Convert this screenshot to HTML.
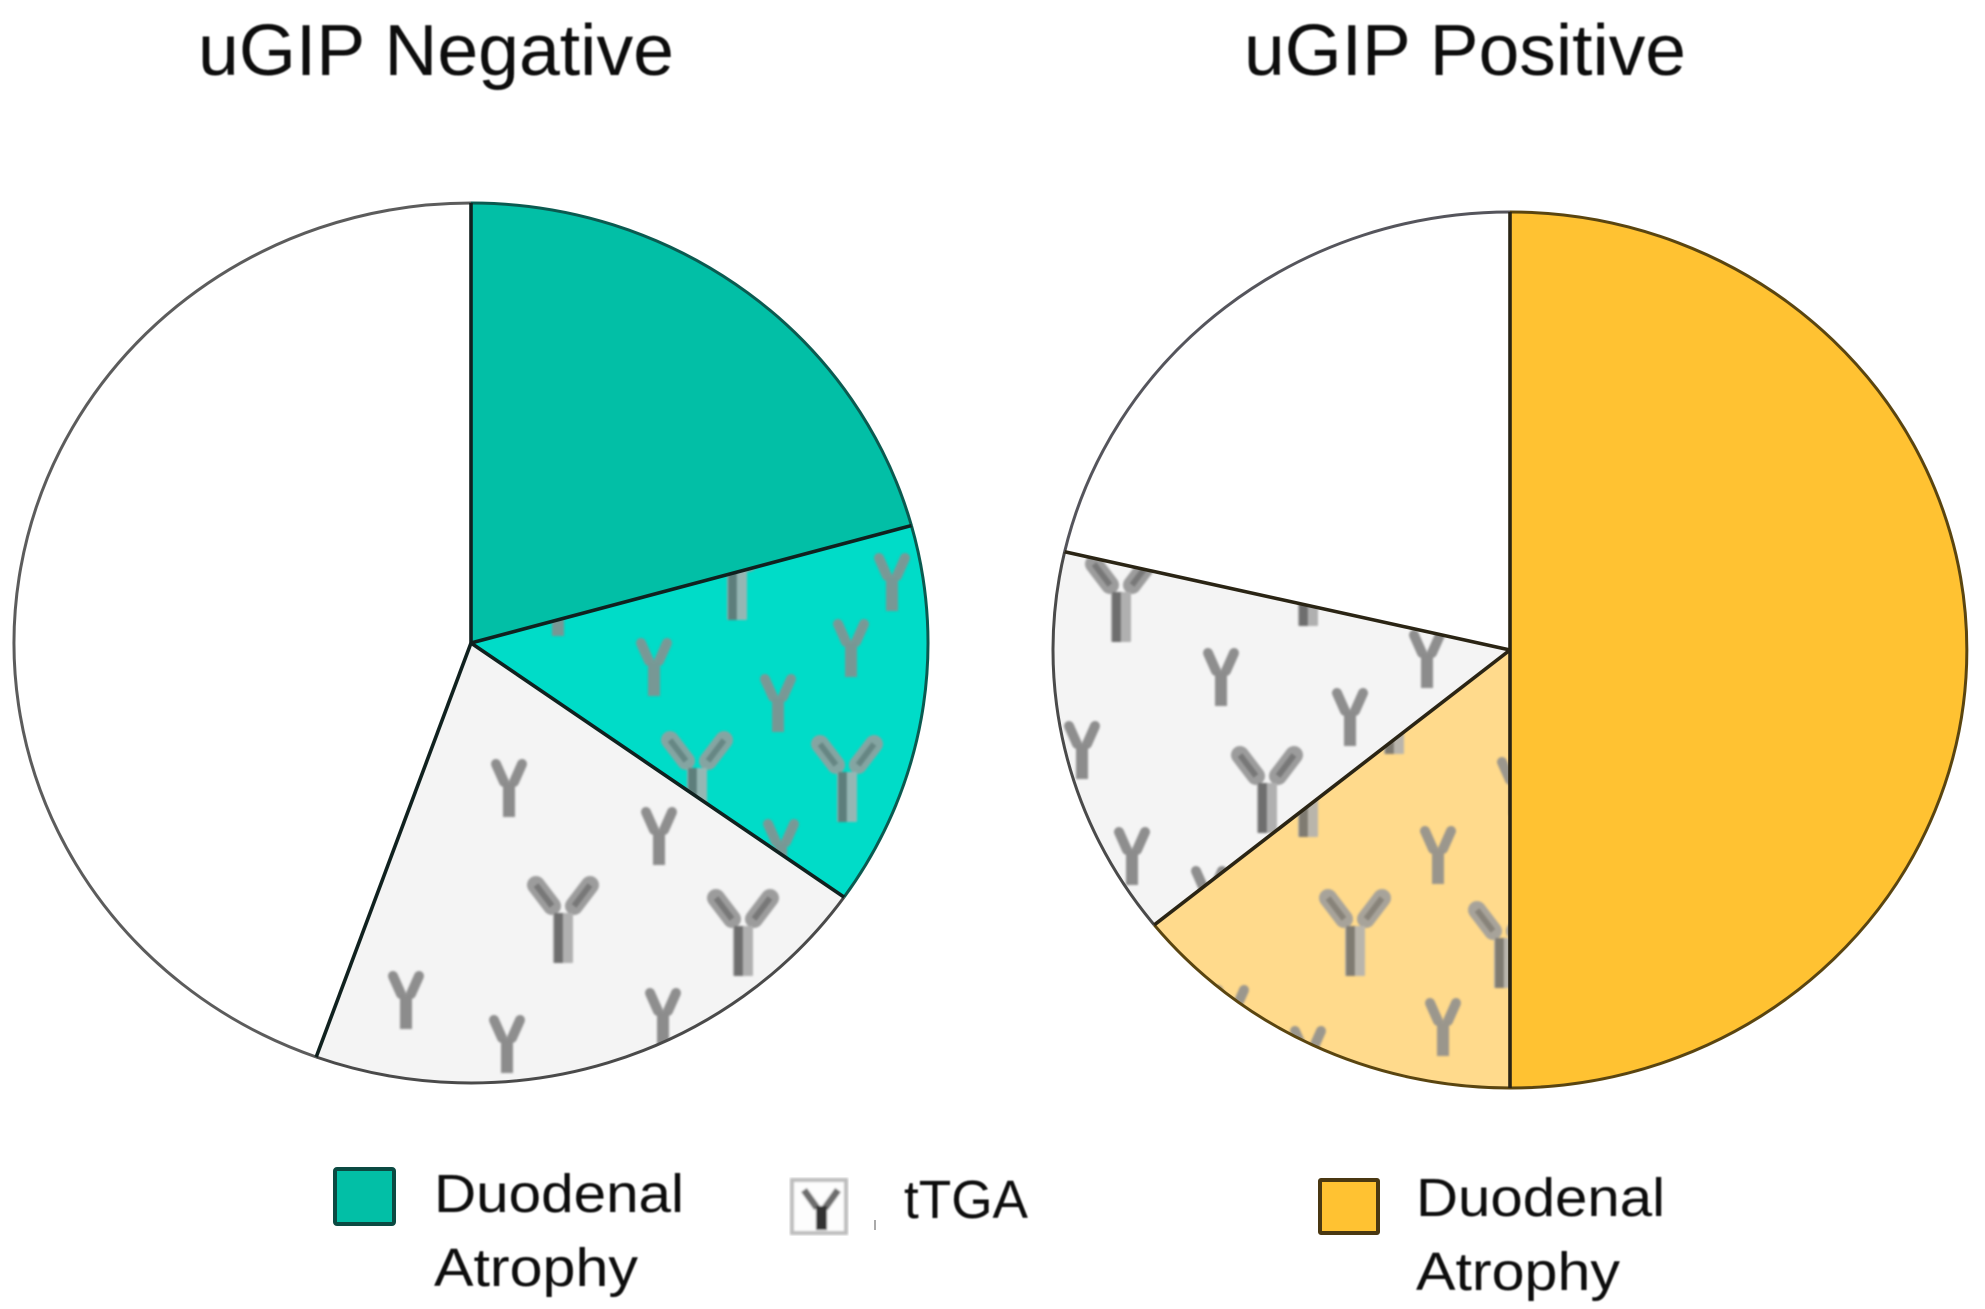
<!DOCTYPE html>
<html lang="en">
<head>
<meta charset="utf-8">
<title>uGIP Negative vs uGIP Positive</title>
<style>
html,body{margin:0;padding:0;background:#fff;width:1985px;height:1309px;overflow:hidden}
svg{display:block}
text{font-family:"Liberation Sans",sans-serif;fill:#0a0a0a}
</style>
</head>
<body>
<svg id="chart" xmlns="http://www.w3.org/2000/svg" width="1985" height="1309" viewBox="0 0 1985 1309">
  <defs>
    <filter id="soft" x="-5%" y="-5%" width="110%" height="110%"><feGaussianBlur stdDeviation="1.1"/></filter>
    <filter id="soft-text" x="-5%" y="-20%" width="110%" height="140%"><feGaussianBlur stdDeviation="0.7"/></filter>
    <g id="ab-large">
      <path d="M-27 8 L-11 29 M27 8 L11 29" stroke="#9c9c9c" stroke-width="18" stroke-linecap="round" fill="none"/>
      <path d="M-27 8 L-11 29 M27 8 L11 29" stroke="#787878" stroke-width="6" fill="none"/>
      <rect x="-10" y="36" width="20" height="50" rx="1" fill="#b0b0b0"/>
      <rect x="-9" y="36" width="9" height="50" fill="#6e6e6e"/>
    </g>
    <g id="ab-small">
      <path d="M-13 5 L-5 23 M13 5 L5 23" stroke="#8e8e8e" stroke-width="10" stroke-linecap="round" fill="none"/>
      <rect x="-6" y="24" width="12" height="34" fill="#8c8c8c"/>
    </g>
  </defs>

  <text x="198" y="75" font-size="72" textLength="476" lengthAdjust="spacingAndGlyphs" filter="url(#soft-text)">uGIP Negative</text>
  <text x="1244" y="75" font-size="72" textLength="442" lengthAdjust="spacingAndGlyphs" filter="url(#soft-text)">uGIP Positive</text>

  <g id="pie-negative"></g>
  <g id="pie-positive"></g>

  <g>
    <rect x="335" y="1169" width="59" height="55" rx="2" fill="#02bfa6" stroke="#0b4a42" stroke-width="4"/>
    <text x="434" y="1212" font-size="54" textLength="250" lengthAdjust="spacingAndGlyphs" filter="url(#soft-text)">Duodenal</text>
    <text x="434" y="1286" font-size="54" textLength="204" lengthAdjust="spacingAndGlyphs" filter="url(#soft-text)">Atrophy</text>
  </g>
  <g>
    <g filter="url(#soft)">
      <rect x="792" y="1180" width="54" height="53" fill="#fdfdfd" stroke="#bdbdbd" stroke-width="4"/>
      <path d="M804 1190 L817 1208 M838 1190 L825 1208" stroke="#6d6d6d" stroke-width="7" fill="none"/>
      <rect x="816" y="1206" width="11" height="24" fill="#333"/>
    </g>
    <rect x="874" y="1220" width="2" height="10" fill="#aaa"/>
    <text x="904" y="1218" font-size="54" textLength="124" lengthAdjust="spacingAndGlyphs" filter="url(#soft-text)">tTGA</text>
  </g>
  <g>
    <rect x="1320" y="1180" width="58" height="53" rx="1" fill="#ffc232" stroke="#4a3812" stroke-width="4"/>
    <text x="1416" y="1216" font-size="54" textLength="249" lengthAdjust="spacingAndGlyphs" filter="url(#soft-text)">Duodenal</text>
    <text x="1416" y="1290" font-size="54" textLength="204" lengthAdjust="spacingAndGlyphs" filter="url(#soft-text)">Atrophy</text>
  </g>

  <!-- antibody texture, clipped to the tTGA slices -->
  <g id="texture-neg-grey" filter="url(#soft)">
    <use href="#ab-small" x="509" y="759"/><use href="#ab-small" x="659" y="807"/>
    <use href="#ab-large" x="563" y="877"/><use href="#ab-large" x="743" y="890"/>
    <use href="#ab-small" x="406" y="971"/><use href="#ab-small" x="507" y="1015"/>
    <use href="#ab-small" x="663" y="988"/>
  </g>
  <g id="texture-neg-teal" filter="url(#soft)" opacity="0.85">
    <use href="#ab-small" x="654" y="638"/><use href="#ab-small" x="851" y="619"/>
    <use href="#ab-small" x="778" y="674"/><use href="#ab-large" x="697" y="732"/>
    <use href="#ab-large" x="847" y="736"/><use href="#ab-small" x="781" y="819"/>
    <use href="#ab-small" x="892" y="553"/><use href="#ab-large" x="737" y="534"/>
    <use href="#ab-small" x="558" y="578"/>
  </g>
  <g id="texture-pos-grey" filter="url(#soft)">
    <use href="#ab-large" x="1121" y="556"/><use href="#ab-large" x="1308" y="540"/>
    <use href="#ab-small" x="1427" y="630"/><use href="#ab-small" x="1221" y="648"/>
    <use href="#ab-small" x="1350" y="688"/><use href="#ab-small" x="1082" y="721"/>
    <use href="#ab-large" x="1267" y="747"/><use href="#ab-small" x="1132" y="827"/>
    <use href="#ab-small" x="1209" y="866"/>
  </g>
  <g id="texture-pos-yellow" filter="url(#soft)" opacity="0.88">
    <use href="#ab-large" x="1394" y="668"/><use href="#ab-large" x="1308" y="751"/>
    <use href="#ab-small" x="1438" y="826"/><use href="#ab-large" x="1355" y="890"/>
    <use href="#ab-large" x="1504" y="902"/><use href="#ab-small" x="1515" y="757"/>
    <use href="#ab-small" x="1443" y="998"/><use href="#ab-small" x="1231" y="985"/>
    <use href="#ab-small" x="1308" y="1026"/>
  </g>
</svg>

<script>
const negativeCategories = ['atrophy', 'atrophy-ttga', 'ttga', 'neither'];
const negativeValues = [20.7, 14.1, 20.7, 44.5];
const positiveCategories = ['atrophy', 'atrophy-ttga', 'ttga', 'neither'];
const positiveValues = [50, 14.2, 14.4, 21.4];

const SVG_NS = 'http://www.w3.org/2000/svg';

function makePoint(cx, cy, rx, ry) {
  return function (fraction) {
    const a = fraction * 2 * Math.PI;
    return [cx + rx * Math.sin(a), cy - ry * Math.cos(a)];
  };
}

function drawPie(opts) {
  const group = document.getElementById(opts.groupId);
  const svg = document.getElementById('chart');
  const defs = svg.querySelector('defs');
  const point = makePoint(opts.cx, opts.cy, opts.rx, opts.ry);
  const total = opts.values.reduce(function (s, v) { return s + v; }, 0);
  let running = 0;
  const edgeLayer = document.createElementNS(SVG_NS, 'g');
  const radii = [];

  opts.values.forEach(function (value, i) {
    const start = running / total;
    running += value;
    const end = running / total;
    const p0 = point(start);
    const p1 = point(end);
    const large = end - start > 0.5 ? 1 : 0;
    const arc = 'A' + opts.rx + ' ' + opts.ry + ' 0 ' + large + ' 1 ' + p1[0] + ' ' + p1[1];
    const d = 'M' + opts.cx + ' ' + opts.cy + ' L' + p0[0] + ' ' + p0[1] + ' ' + arc + ' Z';

    const slice = document.createElementNS(SVG_NS, 'path');
    slice.setAttribute('d', d);
    slice.setAttribute('fill', opts.fills[i]);
    
    
    group.appendChild(slice);

    const clip = document.createElementNS(SVG_NS, 'clipPath');
    clip.setAttribute('id', opts.prefix + '-clip-' + i);
    const clipPath = document.createElementNS(SVG_NS, 'path');
    clipPath.setAttribute('d', d);
    clip.appendChild(clipPath);
    defs.appendChild(clip);

    const rim = document.createElementNS(SVG_NS, 'path');
    rim.setAttribute('d', 'M' + p0[0] + ' ' + p0[1] + ' ' + arc);
    rim.setAttribute('fill', 'none');
    rim.setAttribute('stroke', opts.rims[i]);
    rim.setAttribute('stroke-width', '3');
    
    
    edgeLayer.appendChild(rim);

    radii.push(p0);
  });

  opts.textures.forEach(function (t) {
    const tex = document.getElementById(t.id);
    const wrap = document.createElementNS(SVG_NS, 'g');
    wrap.setAttribute('clip-path', 'url(#' + opts.prefix + '-clip-' + t.slice + ')');
    
    
    wrap.appendChild(tex);
    group.appendChild(wrap);
  });

  radii.forEach(function (p, i) {
    const line = document.createElementNS(SVG_NS, 'line');
    line.setAttribute('x1', opts.cx);
    line.setAttribute('y1', opts.cy);
    line.setAttribute('x2', p[0]);
    line.setAttribute('y2', p[1]);
    line.setAttribute('stroke', opts.radial);
    line.setAttribute('stroke-width', '3.6');
    
    
    edgeLayer.appendChild(line);
  });

  group.appendChild(edgeLayer);
}

drawPie({
  groupId: 'pie-negative', prefix: 'negative',
  cx: 471, cy: 643, rx: 457, ry: 440,
  categories: negativeCategories, values: negativeValues,
  fills: ['#02bfa6', '#00dcc8', '#f4f4f4', '#ffffff'],
  rims: ['#0b5a50', '#0b5a50', '#4a4a4a', '#5c5c5c'],
  radial: '#10211f',
  textures: [{ id: 'texture-neg-teal', slice: 1 }, { id: 'texture-neg-grey', slice: 2 }]
});

drawPie({
  groupId: 'pie-positive', prefix: 'positive',
  cx: 1510, cy: 650, rx: 457, ry: 438,
  categories: positiveCategories, values: positiveValues,
  fills: ['#ffc232', '#ffda8c', '#f4f4f4', '#ffffff'],
  rims: ['#5a4510', '#5a4510', '#4a4a4a', '#55555c'],
  radial: '#2a2414',
  textures: [{ id: 'texture-pos-yellow', slice: 1 }, { id: 'texture-pos-grey', slice: 2 }]
});
</script>
</body>
</html>
